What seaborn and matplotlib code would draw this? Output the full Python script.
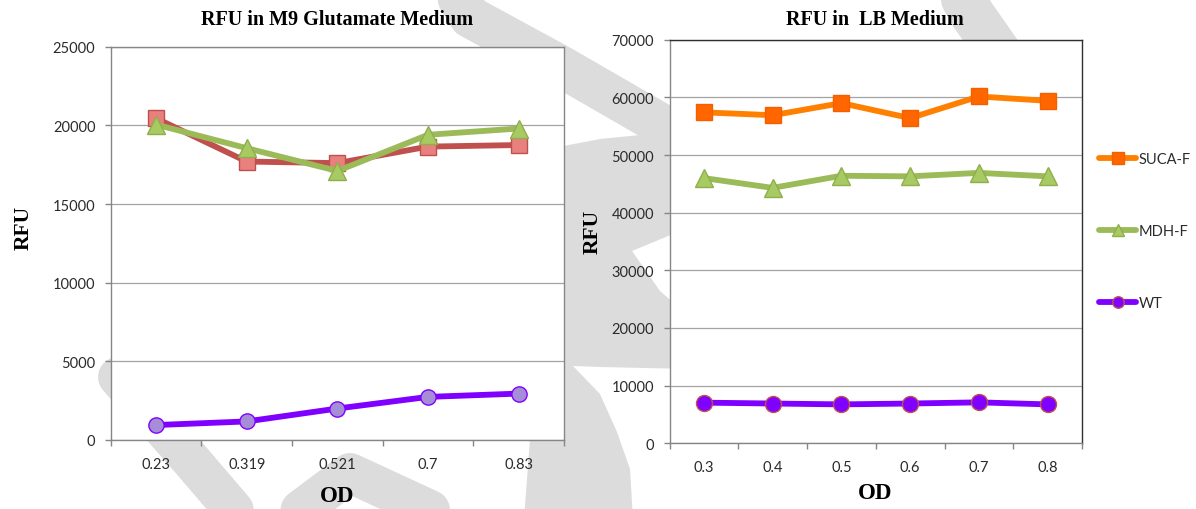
import numpy as np
import pandas as pd
import matplotlib
matplotlib.use("Agg")
import matplotlib.pyplot as plt
from matplotlib.lines import Line2D
from matplotlib.patches import Polygon
import seaborn as sns

# ---- data -------------------------------------------------------------
series = ["SUCA-F", "MDH-F", "WT"]

m9_od = ["0.23", "0.319", "0.521", "0.7", "0.83"]
m9_suca = [20450, 17700, 17600, 18650, 18750]
m9_mdh = [20050, 18550, 17100, 19400, 19800]
m9_wt = [950, 1180, 2000, 2740, 2950]

lb_od = ["0.3", "0.4", "0.5", "0.6", "0.7", "0.8"]
lb_suca = [57400, 56900, 59000, 56400, 60150, 59400]
lb_mdh = [46000, 44300, 46400, 46300, 46900, 46300]
lb_wt = [7050, 6900, 6750, 6900, 7100, 6750]

# ---- style ------------------------------------------------------------
sns.set_theme(style="white")
plt.rcParams["font.family"] = ["Lato", "DejaVu Sans"]

W, H = 1196, 510
fig = plt.figure(figsize=(W / 100, H / 100), dpi=100)
fig.patch.set_facecolor("white")

GRID = "#A3A3A3"
AXGRAY = "#868686"
TICKTXT = "#2B2B2B"
SERIF = ["Liberation Serif", "DejaVu Serif"]
MARK = "#DCDCDC"


def px_rect(x0, y0, x1, y1):
    return [x0 / W, 1 - y1 / H, (x1 - x0) / W, (y1 - y0) / H]


def to_fig(points):
    return [(x / W, 1 - y / H) for x, y in points]


def band(points, width_px):
    xy = to_fig(points)
    fig.add_artist(Line2D([p[0] for p in xy], [p[1] for p in xy],
                          transform=fig.transFigure, color=MARK,
                          lw=width_px * 0.72, solid_capstyle="round",
                          solid_joinstyle="round", zorder=-5))


def blob(points):
    fig.add_artist(Polygon(to_fig(points), closed=True, transform=fig.transFigure,
                           facecolor=MARK, edgecolor="none", zorder=-5))


# background watermark strokes (sit behind the opaque plot areas)
band([(440, -30), (470, 18), (560, 67), (690, 142)], 42)
band([(952, -20), (972, 15), (1000, 55)], 45)
blob([(548, 150), (600, 140), (640, 136), (690, 150), (690, 228), (632, 252),
      (660, 292), (690, 318), (690, 370), (600, 368), (573, 367), (600, 395),
      (617, 433), (630, 470), (633, 520), (524, 520), (530, 440), (520, 380),
      (520, 300), (530, 200)])
band([(118, 378), (190, 460), (250, 530)], 40)
band([(255, 545), (350, 474), (510, 548)], 40)


def draw(ax, od, values, line_colors, face_colors, edge_colors, markers, sizes):
    pos = np.arange(len(od))
    for name, vals, lc, fc, ec, mk, ms in zip(series, values, line_colors,
                                              face_colors, edge_colors, markers, sizes):
        df = pd.DataFrame({"pos": pos, "RFU": vals})
        sns.lineplot(data=df, x="pos", y="RFU", color=lc, marker=mk, linewidth=4.2,
                     markersize=ms, sort=False, ax=ax, label=name, legend=False)
        ln = ax.lines[-1]
        ln.set_markerfacecolor(fc)
        ln.set_markeredgecolor(ec)
        ln.set_markeredgewidth(1.0)
        ln.set_solid_capstyle("round")
    ax.set_xlim(-0.5, len(od) - 0.5)
    ax.set_xticks(pos)
    ax.set_xticklabels(od)
    ax.set_xticks(np.arange(-0.5, len(od)), minor=True)
    ax.tick_params(axis="x", which="major", length=0, pad=12, labelsize=10.5,
                   labelcolor=TICKTXT)
    ax.tick_params(axis="x", which="minor", length=4, width=1, color=AXGRAY,
                   direction="out", bottom=True)
    ax.tick_params(axis="y", which="major", length=4, width=1, color=AXGRAY,
                   direction="out", left=True, pad=7, labelsize=10.5,
                   labelcolor=TICKTXT)
    ax.yaxis.grid(True, color=GRID, lw=0.9)
    ax.xaxis.grid(False)
    ax.set_axisbelow(True)
    ax.set_xlabel("")
    ax.set_ylabel("")
    ax.set_facecolor("white")


# ---- M9 glutamate panel -------------------------------------------------
ax1 = fig.add_axes(px_rect(110.7, 47.7, 564, 441))
draw(ax1, m9_od, [m9_suca, m9_mdh, m9_wt],
     line_colors=["#C0504D", "#9BBB59", "#8000FF"],
     face_colors=["#E8807D", "#A8CA62", "#A58ED6"],
     edge_colors=["#C0504D", "#8FAF4D", "#8000FF"],
     markers=["s", "^", "o"], sizes=[11.5, 12.5, 11])
ax1.set_ylim(0, 25000)
ax1.set_yticks(np.arange(0, 25001, 5000))
for s in ax1.spines.values():
    s.set_color(AXGRAY)
    s.set_linewidth(1)

# ---- LB panel -----------------------------------------------------------
ax2 = fig.add_axes(px_rect(669.5, 40.7, 1082, 444.3))
draw(ax2, lb_od, [lb_suca, lb_mdh, lb_wt],
     line_colors=["#FF8000", "#9BBB59", "#8000FF"],
     face_colors=["#FF6600", "#A8CA62", "#8000FF"],
     edge_colors=["#F26000", "#8FAF4D", "#C0504D"],
     markers=["s", "^", "o"], sizes=[11.5, 12.5, 11.5])
ax2.set_ylim(0, 70000)
ax2.set_yticks(np.arange(0, 70001, 10000))
for side in ["left", "bottom"]:
    ax2.spines[side].set_color(AXGRAY)
for side in ["top", "right"]:
    ax2.spines[side].set_color("#303030")
for s in ax2.spines.values():
    s.set_linewidth(1)

fig.legend(handles=ax2.lines[:3], labels=series, loc="center left",
           bbox_to_anchor=(1099 / W, 1 - 232 / H), frameon=False,
           fontsize=10.5, handlelength=2.55, handletextpad=0.15,
           labelspacing=4.0, borderpad=0, borderaxespad=0, markerscale=0.72,
           labelcolor=TICKTXT)

# ---- titles and axis labels ---------------------------------------------
def ftext(x, y, s, **kw):
    fig.text(x / W, 1 - y / H, s, ha="center", va="center", family=SERIF,
             weight="bold", color="black", **kw)


ftext(337, 20, "RFU in M9 Glutamate Medium", fontsize=14.5)
ftext(875, 20, "RFU in  LB Medium", fontsize=14.5)
ftext(24, 228, "RFU", fontsize=15.5, rotation=90)
ftext(593, 232, "RFU", fontsize=15.5, rotation=90)
ftext(337, 497, "OD", fontsize=16.5)
ftext(875, 494, "OD", fontsize=16.5)

fig.savefig("out.png", dpi=100, facecolor="white")
